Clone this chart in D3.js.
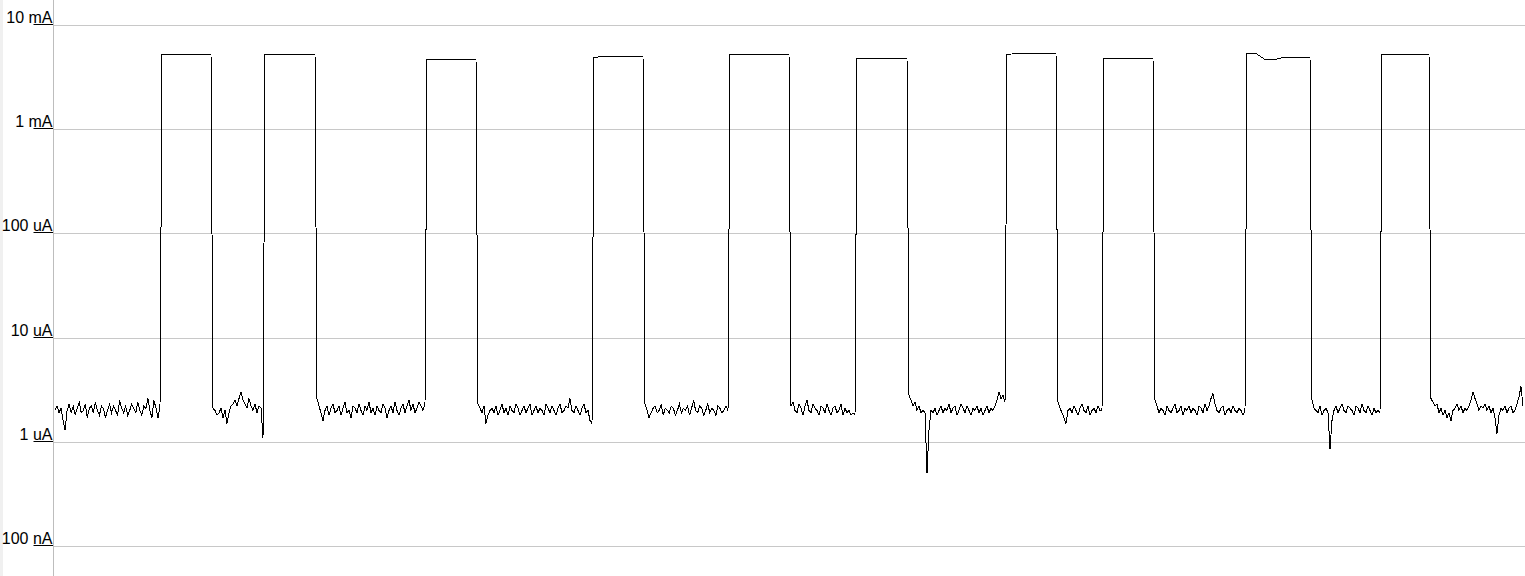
<!DOCTYPE html>
<html><head><meta charset="utf-8">
<script src="https://cdn.jsdelivr.net/npm/d3@7"></script>
<style>html,body{margin:0;padding:0;background:#fff;overflow:hidden}</style>
</head><body>
<svg id="c" width="1525" height="576"></svg>
<script>
// Y tick values (in uA) and their labels
const tickValues = [10000, 1000, 100, 10, 1, 0.1];
const tickLabels = ["10 mA", "1 mA", "100 uA", "10 uA", "1 uA", "100 nA"];

// Pulse edges (time units, arbitrary) and pulse top levels (mA)
const riseT = [106, 209, 371, 538, 674, 801, 951, 1048, 1191, 1326];
const fallT = [157, 261, 422, 589, 735, 853, 1002, 1099, 1256, 1375];
const pulseTops_mA = [
  [5.18, 5.18, 5.18, 5.26, 5.26],
  [5.26, 5.18, 5.24, 5.24, 5.26],
  [4.62, 4.62, 4.64, 4.66, 4.66],
  [4.92, 4.95, 4.98, 5.0, 5.02],
  [5.18, 5.2, 5.2, 5.22, 5.22],
  [4.72, 4.74, 4.75, 4.76, 4.76],
  [5.26, 5.28, 5.3, 5.3, 5.28],
  [4.75, 4.78, 4.8, 4.8, 4.8],
  [5.3, 5.32, 4.66, 4.66, 4.86, 4.86, 4.86, 4.86],
  [5.2, 5.2, 5.22, 5.22, 5.22]
];

// Low-level noise readings (uA) between pulses
const gap0 = [2.0,2.2,1.9,2.1,1.6,1.3,2.0,2.3,1.9,2.2, 1.8,2.1,2.4,1.9,2.0,2.3,1.7,2.1,2.2,1.9, 2.4,2.0,1.8,2.2,2.1,1.7,2.0,2.3,1.9,2.2, 2.0,1.8,2.5,2.1,1.9,2.2,1.8,2.0,2.3,2.1, 1.9,2.4,2.0,1.8,2.2,2.1,2.6,2.0,1.7,2.5, 2.1,1.7,2.2];
const gap1 = [2.1,2.0,1.8,1.9,2.1,1.7,2.0,1.5,1.9,2.2, 2.3,2.5,2.2,2.6,3.0,2.5,2.3,2.1,2.6,2.2, 2.0,2.3,1.9,2.2,2.1,1.1];
const gap2 = [2.6,2.2,1.9,1.6,2.0,2.2,1.8,2.1,2.3,1.9, 2.0,2.2,1.8,2.1,2.4,1.9,2.0,1.7,2.2,2.1, 1.9,2.3,2.0,1.8,2.2,2.0,2.4,1.9,2.1,1.8, 2.2,2.0,1.9,2.3,2.1,1.7,2.0,2.2,1.9,2.4, 2.0,1.8,2.1,2.3,1.9,2.2,2.5,2.0,2.3,1.9, 2.1,2.4,2.2,2.0,2.3];
const gap3 = [2.3,2.1,1.9,2.2,1.5,1.8,2.0,2.1,1.9,2.2, 1.8,2.0,2.3,1.9,2.1,1.8,2.2,2.0,1.9,2.3, 2.1,1.8,2.0,2.2,1.9,2.1,2.3,1.8,2.0,2.2, 1.9,2.1,2.0,1.8,2.3,2.1,1.9,2.2,2.0,1.8, 2.1,2.3,1.9,2.0,2.2,2.1,2.6,2.0,1.9,2.2, 2.0,1.8,2.1,2.3,1.9,2.0,1.6,1.5];
const gap4 = [2.3,2.0,1.7,1.9,2.1,2.2,1.9,2.0,2.3,1.8, 2.1,2.0,1.9,2.2,2.1,1.8,2.0,2.3,1.9,2.1, 2.0,2.2,1.8,2.1,2.5,2.0,1.9,2.2,2.1,1.8, 2.0,2.3,1.9,2.1,2.0,1.8,2.2,2.1,1.9,2.0, 2.2,2.0];
const gap5 = [2.2,2.4,2.0,1.9,2.3,2.1,1.8,2.2,2.5,2.0, 1.9,2.3,2.1,2.0,1.8,2.2,2.1,1.9,2.3,2.0, 1.8,2.1,2.2,1.9,2.0,2.3,1.8,2.1,1.9,2.0, 1.8,1.9,1.8];
const gap6 = [2.8,2.5,2.2,2.4,2.0,2.2,1.9,2.0,1.9,0.5, 1.3,2.0,1.9,2.1,1.8,2.0,2.2,1.9,2.1,2.0, 2.3,1.9,2.1,2.2,1.8,2.0,2.3,2.1,1.9,2.2, 2.0,1.8,2.1,2.0,2.2,1.9,2.1,1.8,2.0,2.2, 1.9,2.1,2.0,2.2,2.5,3.0,2.6,2.8,2.4];
const gap7 = [2.4,2.1,1.9,1.7,1.5,2.0,2.1,1.9,2.2,2.0, 1.8,2.1,2.3,2.0,1.9,2.2,1.8,2.0,2.1,1.9, 2.2,2.0,2.0];
const gap8 = [2.5,2.2,1.9,2.1,2.0,1.8,2.2,2.0,1.9,2.1, 2.3,1.9,2.0,2.2,1.8,2.1,2.0,2.2,1.9,2.1, 2.0,1.8,2.2,2.1,1.9,2.3,2.0,2.2,2.6,2.9, 2.3,2.0,1.9,2.1,2.2,1.8,2.0,2.1,1.9,2.2, 2.0,1.9,2.1,2.0,1.8,2.0];
const gap9 = [2.5,2.1,2.0,1.9,2.2,1.8,2.0,2.1,1.9,0.85, 1.6,2.0,2.2,1.9,2.1,2.3,2.0,1.9,2.2,2.1, 2.0,1.8,2.2,2.1,1.9,2.3,2.0,1.9,2.2,2.0, 1.8,2.1,1.9,2.0,1.9];
const gap10 = [2.6,2.4,2.2,2.3,1.9,2.1,1.8,2.0,1.7,1.9, 1.6,2.0,2.1,2.3,2.0,2.2,1.9,2.1,2.0,2.2, 2.5,3.0,2.6,2.3,2.0,2.2,2.1,2.3,2.0,2.2, 1.9,2.1,1.7,1.2,1.8,2.1,2.0,2.2,1.9,2.1, 2.2,1.9,2.0,2.3,2.7,3.4,2.2];
const gaps = [gap0, gap1, gap2, gap3, gap4, gap5, gap6, gap7, gap8, gap9, gap10];
const tStart = 1, tEnd = 1469;

const W = 1525, H = 576;
const svg = d3.select("#c");
const x = d3.scaleLinear().domain([0, 1470]).range([54, 1524]);
const y = d3.scaleLog().domain([0.1, 10000]).range([546, 25]);

// build trace
const pts = [];
function spread(arr, t0, t1) {
  const n = arr.length;
  arr.forEach((v, i) => pts.push([t0 + (n > 1 ? i * (t1 - t0) / (n - 1) : 0), v]));
}
gaps.forEach((g, k) => {
  const a = k === 0 ? tStart : fallT[k - 1] + 2;
  const b = k < riseT.length ? riseT[k] : tEnd;
  spread(g, a, b);
  if (k < riseT.length) {
    spread(pulseTops_mA[k].map(v => v * 1000), riseT[k] + 2, fallT[k]);
  }
});

// background strip
svg.append("rect").attr("x", 0).attr("y", 0).attr("width", 3).attr("height", H).attr("fill", "#f0f0f0");

// gridlines
svg.append("g").selectAll("line").data(tickValues).join("line")
  .attr("x1", 53).attr("x2", W)
  .attr("y1", d => Math.round(y(d)) + 0.5).attr("y2", d => Math.round(y(d)) + 0.5)
  .attr("stroke", "#c8c8c8").attr("stroke-width", 1);

// axis
const axis = d3.axisLeft(y).tickValues(tickValues).tickSize(20).tickSizeOuter(0)
  .tickFormat((d, i) => tickLabels[i]);
const ag = svg.append("g").attr("transform", "translate(53.5,0)").call(axis);
ag.select(".domain").remove();
ag.selectAll(".tick").attr("transform", d => `translate(0,${Math.round(y(d)) - 0.5})`);
ag.selectAll(".tick line").attr("stroke", "#000");
ag.selectAll(".tick text")
  .attr("x", -1).attr("y", -1.5).attr("dy", 0)
  .attr("text-anchor", "end")
  .attr("fill", "#000")
  .style("font-family", "Arial, 'Liberation Sans', sans-serif")
  .style("font-size", "16px");
svg.append("line").attr("x1", 53.5).attr("x2", 53.5).attr("y1", 0).attr("y2", H)
  .attr("stroke", "#bdbdbd").attr("stroke-width", 1);

// trace
svg.append("path").datum(pts)
  .attr("d", d3.line().x(d => x(d[0])).y(d => y(d[1])))
  .attr("fill", "none").attr("stroke", "#000").attr("stroke-width", 1)
  .attr("shape-rendering", "crispEdges");
</script>
</body></html>
